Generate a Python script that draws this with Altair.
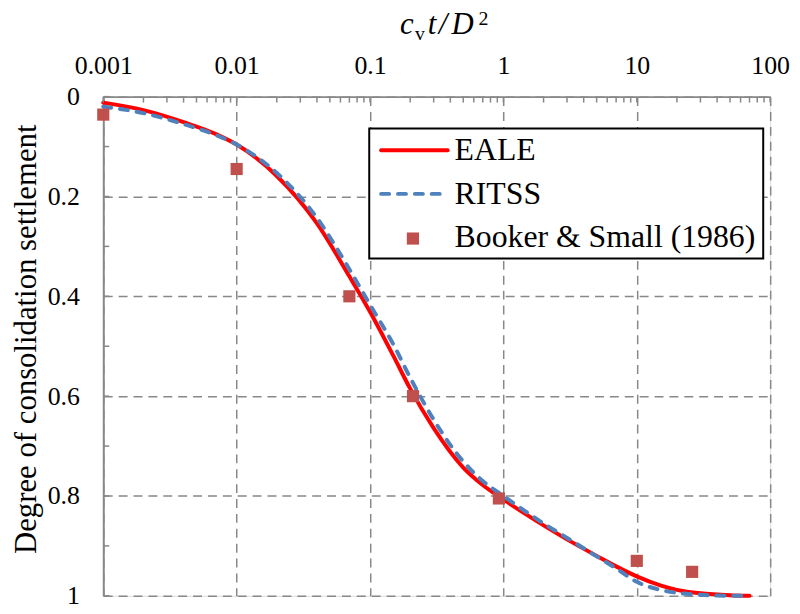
import altair as alt
import pandas as pd

# ---- data ----
x_vals = [0.001, 0.002, 0.004, 0.007, 0.01, 0.02, 0.04, 0.07, 0.1, 0.15, 0.2, 0.3,
          0.5, 0.7, 1, 1.5, 2, 3, 5, 7, 10, 15, 20, 30, 50, 70]
eale_y = [0.012, 0.027, 0.051, 0.075, 0.096, 0.159, 0.254, 0.36, 0.431, 0.52, 0.585, 0.664,
          0.743, 0.778, 0.807, 0.838, 0.859, 0.887, 0.92, 0.941, 0.961, 0.979, 0.988, 0.995, 0.999, 1.0]
ritss_y = [0.02, 0.033, 0.055, 0.077, 0.096, 0.153, 0.243, 0.346, 0.417, 0.497, 0.563, 0.647,
           0.731, 0.77, 0.8, 0.833, 0.855, 0.884, 0.921, 0.945, 0.972, 0.988, 0.994, 0.998, 1.0, 1.0]
booker_x = [0.001, 0.01, 0.07, 0.21, 0.925, 10, 26]
booker_y = [0.036, 0.145, 0.40, 0.60, 0.805, 0.930, 0.952]

series_names = ["EALE", "RITSS", "Booker & Small (1986)"]
x_tick_values = [0.001, 0.01, 0.1, 1, 10, 100]
y_tick_values = [0, 0.2, 0.4, 0.6, 0.8, 1]
x_minor = [m * d for d in [0.001, 0.01, 0.1, 1, 10] for m in range(1, 10)] + [100]
y_minor = [0, 0.1, 0.2, 0.3, 0.4, 0.5, 0.6, 0.7, 0.8, 0.9, 1.0]

FONT = "Liberation Serif"
GRAY = "#888888"
RED = "#FF0000"
BLUE = "#4F81BD"
SQ = "#C0504D"

eale_df = pd.DataFrame({"x": x_vals, "y": eale_y})
ritss_df = pd.DataFrame({"x": x_vals, "y": ritss_y})
booker_df = pd.DataFrame({"x": booker_x, "y": booker_y})
one = pd.DataFrame({"a": [0]})

xscale = alt.Scale(type="log", domain=[0.001, 100])
yscale = alt.Scale(domain=[0, 1], reverse=True)

x_axis = alt.Axis(orient="top", values=x_tick_values, format="~g", title=None,
                  grid=True, gridDash=[9, 6], gridColor=GRAY, gridWidth=1.5,
                  domainColor=GRAY, domainWidth=2, ticks=False, tickSize=0,
                  labelFont=FONT, labelFontSize=26, labelColor="black",
                  labelBaseline="alphabetic", labelPadding=23, labelFlush=False)
y_axis = alt.Axis(orient="left", values=y_tick_values, format="~g",
                  title="Degree of consolidation settlement",
                  grid=True, gridDash=[9, 6], gridColor=GRAY, gridWidth=1.5,
                  domainColor=GRAY, domainWidth=2, ticks=False, tickSize=0,
                  labelFont=FONT, labelFontSize=26, labelColor="black",
                  labelPadding=24, labelFlush=False,
                  titleFont=FONT, titleFontSize=31, titleFontWeight="normal",
                  titleColor="black", titleAngle=270, titleBaseline="alphabetic",
                  titleX=-68, titleY=244)

X = alt.X("x:Q", scale=xscale, axis=x_axis)
Y = alt.Y("y:Q", scale=yscale, axis=y_axis)

red_line = alt.Chart(eale_df).mark_line(color=RED, strokeWidth=4, interpolate="monotone",
                                        strokeCap="round").encode(x=X, y=Y)
blue_line = alt.Chart(ritss_df).mark_line(color=BLUE, strokeWidth=4, interpolate="monotone",
                                          strokeDash=[8, 9], strokeCap="round").encode(x=X, y=Y)
squares = alt.Chart(booker_df).mark_square(color=SQ, size=150, opacity=1).encode(x=X, y=Y)

x_ticks = alt.Chart(pd.DataFrame({"x": x_minor})).mark_rule(color=GRAY, strokeWidth=1.5).encode(
    x=X, y=alt.value(0), y2=alt.value(6))
y_ticks = alt.Chart(pd.DataFrame({"y": y_minor})).mark_rule(color=GRAY, strokeWidth=1.5).encode(
    y=Y, x=alt.value(0), x2=alt.value(6))

# ---- legend ----
leg_box = alt.Chart(one).mark_rect(fill="white", stroke="black", strokeWidth=2).encode(
    x=alt.value(268), x2=alt.value(665), y=alt.value(32), y2=alt.value(163))
leg_red = alt.Chart(one).mark_rule(color=RED, strokeWidth=4, strokeCap="round").encode(
    x=alt.value(280), x2=alt.value(347), y=alt.value(54))
leg_blue = alt.Chart(one).mark_rule(color=BLUE, strokeWidth=4, strokeCap="round",
                                    strokeDash=[8, 9]).encode(
    x=alt.value(280), x2=alt.value(347), y=alt.value(98))
leg_sq = alt.Chart(one).mark_square(color=SQ, size=150, opacity=1).encode(
    x=alt.value(312), y=alt.value(143))

def leg_text(label, ybase):
    return alt.Chart(one).mark_text(align="left", baseline="alphabetic", font=FONT,
                                    fontSize=32, color="black").encode(
        x=alt.value(354), y=alt.value(ybase), text=alt.value(label))

leg_texts = [leg_text(series_names[0], 64), leg_text(series_names[1], 108),
             leg_text(series_names[2], 152)]

# ---- top axis title  c_v t / D^2 ----
def piece(txt, x, y, size, style):
    return alt.Chart(one).mark_text(align="left", baseline="alphabetic", font=FONT,
                                    fontSize=size, fontStyle=style, color="black").encode(
        x=alt.value(x), y=alt.value(y), text=alt.value(txt))

title_parts = [
    piece("c", 299, -63, 31, "italic"),
    piece("v", 314, -57, 20, "normal"),
    piece("t", 327, -63, 31, "italic"),
    piece("/", 338, -63, 31, "italic"),
    piece("D", 351, -63, 31, "italic"),
    piece("2", 378, -72, 20, "normal"),
]

chart = alt.layer(
    red_line, blue_line, x_ticks, y_ticks, squares,
    leg_box, leg_red, leg_blue, leg_sq, *leg_texts, *title_parts
).properties(
    width=672, height=503,
    autosize=alt.AutoSizeParams(type="none"),
    padding={"left": 96, "top": 87, "right": 22, "bottom": 14},
).configure_view(stroke=None).configure(background="white")

chart.save("out.html", embed_options={"renderer": "svg", "actions": False})
